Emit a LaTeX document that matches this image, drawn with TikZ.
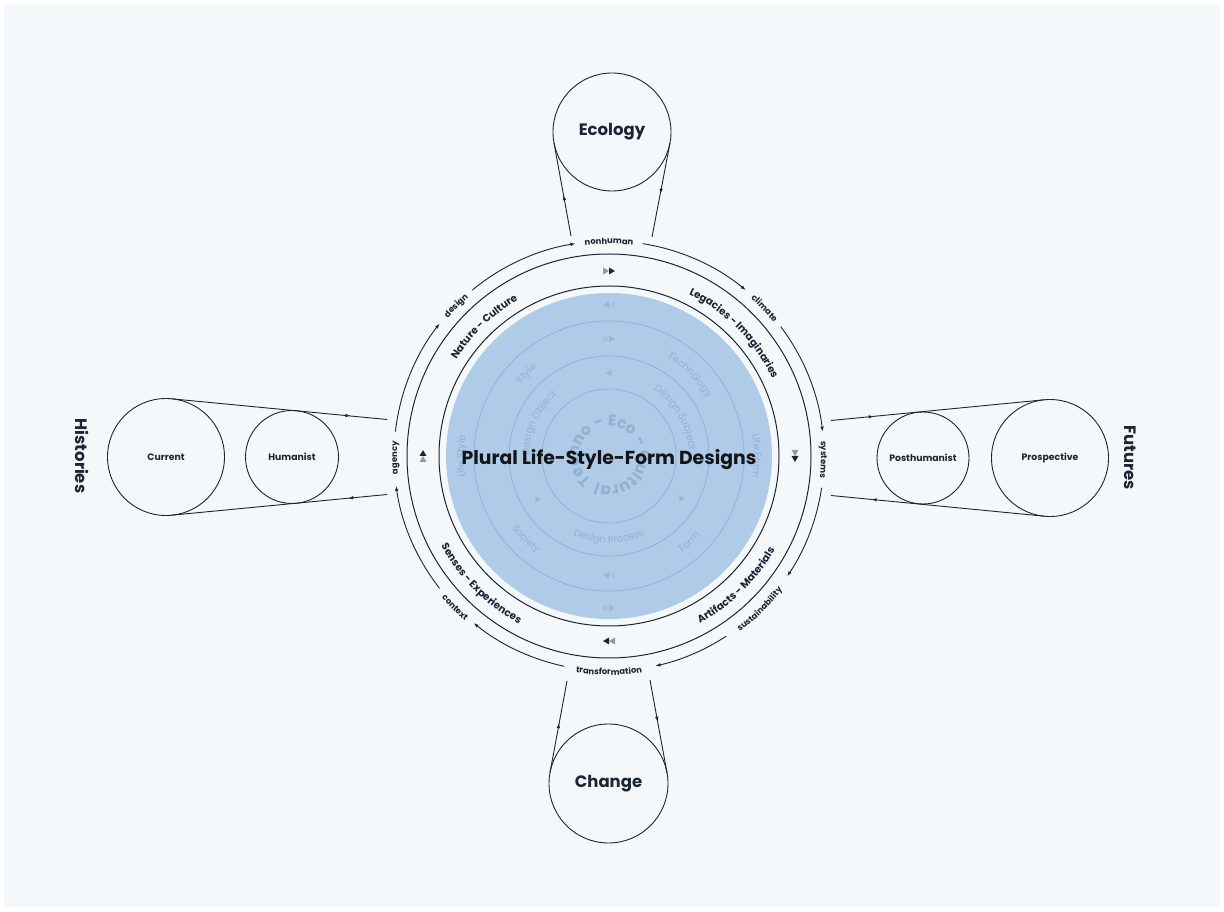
\documentclass[tikz,border=0pt]{standalone}
\usepackage{fontspec}
\setmainfont{Poppins}
\usetikzlibrary{arrows.meta, decorations.text, decorations.markings, positioning}

\definecolor{ink}{HTML}{1B2535}
\definecolor{titleink}{HTML}{121418}
\definecolor{paper}{HTML}{F4F8FB}
\definecolor{disc}{HTML}{AFCBE8}
\definecolor{faintring}{HTML}{93B2D3}
\definecolor{fainttext}{HTML}{92B0D1}
\definecolor{faintlead}{HTML}{9AB6D5}
\definecolor{fainttrail}{HTML}{A6C0DD}
\definecolor{trail}{HTML}{8E98A6}

\newcommand\ringsmall{\fontsize{8.4}{9}\selectfont\bfseries\color{ink}}
\newcommand\ringmid{\fontsize{10.3}{11}\selectfont\bfseries\color{ink}}
\newcommand\ringfaint{\fontsize{9.8}{10}\selectfont\color{fainttext}}
\newcommand\ringcore{\fontsize{15.5}{16}\selectfont\bfseries\color{fainttext}}

% text set along an arc round the centre
\newcommand\ringlabel[5]{%
  \path[decorate, decoration={text along path, text align=center, text={|#1|#5}}]
    (O) ++(#3:#2) arc[start angle=#3, end angle=#4, radius=#2];}

\tikzset{
  wire/.style={draw=ink, line width=0.9pt},
  flow/.style={wire, -{Latex[length=5pt,width=3.6pt]}},
  belt/.style={wire, postaction={decorate, decoration={markings,
      mark=at position #1 with {\arrow{Latex[length=5pt,width=3.6pt]}}}}},
  ringline/.style={draw=ink, line width=1pt},
  sat/.style={circle, draw=ink, line width=0.9pt, inner sep=0pt, text=ink,
    font=\fontsize{9.3}{10}\selectfont\bfseries},
  hub/.style={sat, font=\fontsize{16.5}{18}\selectfont\bfseries},
  side/.style={text=ink, font=\fontsize{16.5}{18}\selectfont\bfseries},
  darkpair/.pic={
    \fill[trail] (-6,-3.5) -- (0,0) -- (-6,3.5) -- cycle;
    \fill[ink] (0,-3.5) -- (6,0) -- (0,3.5) -- cycle;},
  faintpair/.pic={
    \fill[fainttrail] (-6,-3.5) -- (0,0) -- (-6,3.5) -- cycle;
    \fill[faintlead] (0,-3.5) -- (6,0) -- (0,3.5) -- cycle;},
  faintone/.pic={
    \fill[faintlead] (-2.5,-3.2) -- (3,0) -- (-2.5,3.2) -- cycle;},
}

\begin{document}
\begin{tikzpicture}[x=1pt, y=1pt]
  \useasboundingbox (0,0) rectangle (1224,911);
  \fill[white] (0,0) rectangle (1224,911);
  \fill[paper] (4,4) rectangle (1220,907);
  \coordinate (O) at (609,455);

  % core disc
  \fill[disc] (O) circle[radius=163];
  \foreach \r in {67,100,135}
    \draw[faintring, line width=0.8pt] (O) circle[radius=\r];

  \ringlabel{\ringfaint}{145}{210}{150}{Life Style}
  \ringlabel{\ringfaint}{145}{30}{-30}{Life Form}
  \ringlabel{\ringfaint}{114}{80}{10}{Technology}
  \ringlabel{\ringfaint}{114}{170}{100}{Style}
  \ringlabel{\ringfaint}{121}{-170}{-100}{Society}
  \ringlabel{\ringfaint}{121}{-82}{-12}{Form}
  \ringlabel{\ringfaint}{80}{200}{110}{Design Object}
  \ringlabel{\ringfaint}{80}{75}{-15}{Design Subject}
  \ringlabel{\ringfaint}{87}{-135}{-45}{Design Process}
  \path[decorate, decoration={text along path, text={|\ringcore|Techno - Eco - Cultural - }}]
    (O) ++(235:30) arc[start angle=235, end angle=-125, radius=30];

  \pic[rotate=180] at (609,606) {faintpair};
  \pic at (609,303) {faintpair};
  \pic at (609,572) {faintpair};
  \pic[rotate=180] at (609,336) {faintpair};
  \pic[rotate=180] at (609,538) {faintone};
  \pic[rotate=120] at (537,412) {faintone};
  \pic[rotate=240] at (681,412) {faintone};

  \node[anchor=base, text=titleink, font=\fontsize{18.8}{20}\selectfont\bfseries]
    (title) at (609,446) {Plural Life-Style-Form Designs};

  % rings
  \draw[ringline] (O) circle[radius=170];
  \draw[ringline] (O) circle[radius=202];

  \ringlabel{\ringmid}{180.5}{164}{104}{Nature - Culture}
  \ringlabel{\ringmid}{180.5}{74.5}{14.5}{Legacies - Imaginaries}
  \ringlabel{\ringmid}{190.5}{-165}{-105}{Senses - Experiences}
  \ringlabel{\ringmid}{190.5}{-75.5}{-15.5}{Artifacts - Materials}

  \pic at (609,640) {darkpair};
  \pic[rotate=90] at (423,455) {darkpair};
  \pic[rotate=-90] at (795,455) {darkpair};
  \pic[rotate=180] at (609,270) {darkpair};

  % outer cycle
  \foreach \a/\b in {129.5/99, 81/50.5, 37/6.5, -8.5/-34, -57/-77.5, -102/-129, -142/-172, 173.5/142}
    \draw[flow] (O) ++(\a:215) arc[start angle=\a, end angle=\b, radius=215];

  \ringlabel{\ringsmall}{212}{160.5}{110.5}{design}
  \ringlabel{\ringsmall}{212}{115}{65}{nonhuman}
  \ringlabel{\ringsmall}{212}{68.5}{18.5}{climate}
  \ringlabel{\ringsmall}{212}{24}{-26}{systems}
  \ringlabel{\ringsmall}{212}{205.5}{155.5}{agency}
  \ringlabel{\ringsmall}{219}{-70.5}{-20.5}{sustainability}
  \ringlabel{\ringsmall}{219}{-115}{-65}{transformation}
  \ringlabel{\ringsmall}{219}{-160.5}{-110.5}{context}

  % satellites
  \node[hub, minimum size=118pt] (ecology) at (612,779) {Ecology};
  \node[hub, minimum size=119pt] (change) at (608.5,127.5) {Change};
  \node[sat, minimum size=117pt] (current) at (166,454) {Current};
  \node[sat, minimum size=93pt] (humanist) at (292,454) {Humanist};
  \node[sat, minimum size=92pt] (posthumanist) at (923,453) {Posthumanist};
  \node[sat, minimum size=117pt] (prospective) at (1050,453) {Prospective};
  \node[side, rotate=-90] (histories) at (82,455) {Histories};
  \node[side, rotate=-90] (futures) at (1130,453) {Futures};

  \coordinate (curTop) at (171.6,512.2);
  \coordinate (curBot) at (171.6,395.8);
  \coordinate (hisIn) at (387,491.5);
  \coordinate (hisOut) at (387,416.5);
  \coordinate (proTop) at (1044.3,511.2);
  \coordinate (proBot) at (1044.3,394.8);
  \coordinate (futIn) at (831,490.5);
  \coordinate (futOut) at (831,415.5);
  \coordinate (ecoOut) at (571,675);
  \coordinate (ecoL) at (554,768);
  \coordinate (ecoR) at (670,768);
  \coordinate (ecoIn) at (652,674);
  \coordinate (chgL) at (550,138.4);
  \coordinate (chgOut) at (567,230);
  \coordinate (chgIn) at (650,231);
  \coordinate (chgR) at (667,138.2);

  \draw[belt=0.83] (curTop) -- (hisIn);
  \draw[belt=0.18] (hisOut) -- (curBot);
  \draw[belt=0.2] (futIn) -- (proTop);
  \draw[belt=0.81] (proBot) -- (futOut);
  \draw[belt=0.44] (ecoOut) -- (ecoL);
  \draw[belt=0.54] (ecoR) -- (ecoIn);
  \draw[belt=0.54] (chgL) -- (chgOut);
  \draw[belt=0.45] (chgIn) -- (chgR);
\end{tikzpicture}
\end{document}
